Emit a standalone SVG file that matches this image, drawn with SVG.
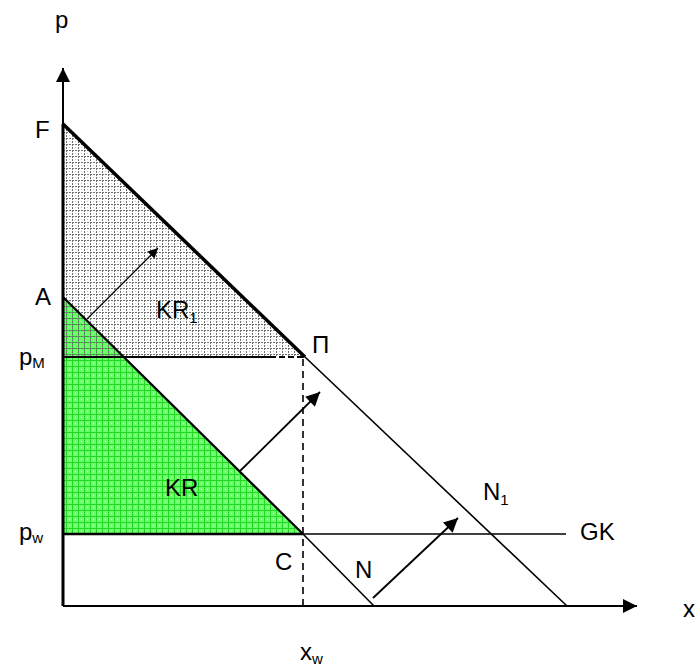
<svg xmlns="http://www.w3.org/2000/svg" width="697" height="669" viewBox="0 0 697 669">
<defs>
<style>
text{font-family:"Liberation Sans",Arial,sans-serif;font-size:24px;fill:#000}
.sub{font-size:15px}
.ln{stroke:#000;fill:none}
</style>
<pattern id="gray" width="6" height="6" patternUnits="userSpaceOnUse">
<path d="M0 .5H6M.5 0V6" stroke="#6e6e6e" stroke-width="1" stroke-dasharray="2 1"/>
<rect x="3" y="3" width="1" height="1" fill="#c8c8c8"/>
</pattern>
<pattern id="green" width="6" height="6" patternUnits="userSpaceOnUse">
<rect width="6" height="6" fill="#6dfc6d"/>
<path d="M0 .5H6M.5 0V6" stroke="#22d822" stroke-width="1"/>
<rect x="3" y="3" width="1" height="1" fill="#d8ffd8"/>
</pattern>
<marker id="ah" viewBox="0 0 10 10" refX="10" refY="5" markerWidth="10" markerHeight="10" markerUnits="userSpaceOnUse" orient="auto">
<path d="M0 0L10 5L0 10z" fill="#000"/>
</marker>
<marker id="ahb" viewBox="0 0 10 10" refX="10" refY="5" markerWidth="16" markerHeight="14" markerUnits="userSpaceOnUse" orient="auto">
<path d="M0 0L10 5L0 10z" fill="#000"/>
</marker>
</defs>
<rect width="697" height="669" fill="#fff"/>
<g id="areas">
<polygon id="KR" points="63,297 303,534 63,534" fill="url(#green)"/>
<polygon id="KR1" points="63,124 305,357 63,357" fill="url(#gray)"/>
</g>
<g id="connectors">
<line class="ln" x1="63" y1="606" x2="63" y2="68" stroke-width="2" marker-end="url(#ahb)"/>
<line class="ln" x1="63" y1="606" x2="637" y2="606" stroke-width="2" marker-end="url(#ahb)"/>
<line class="ln" x1="63" y1="124" x2="305" y2="357" stroke-width="3.5"/>
<line class="ln" x1="305" y1="357" x2="567" y2="606" stroke-width="1.6"/>
<line class="ln" x1="63" y1="297" x2="303" y2="534" stroke-width="2.2"/>
<line class="ln" x1="303" y1="534" x2="374" y2="606" stroke-width="1.6"/>
<line class="ln" x1="63" y1="357" x2="270" y2="357" stroke-width="2"/>
<line class="ln" x1="270" y1="357" x2="305" y2="357" stroke-width="2" stroke-dasharray="6 3"/>
<line class="ln" x1="63" y1="534" x2="303" y2="534" stroke-width="2.5"/>
<line class="ln" x1="303" y1="534" x2="566" y2="534" stroke-width="1.6"/>
<line class="ln" x1="303" y1="359" x2="303" y2="606" stroke-width="1.6" stroke-dasharray="7 5"/>
<line class="ln" x1="63" y1="124" x2="63" y2="606" stroke-width="3"/>
<line class="ln" x1="87" y1="319" x2="158" y2="248" stroke-width="1.3" marker-end="url(#ah)"/>
<line class="ln" x1="240" y1="471" x2="320" y2="392" stroke-width="1.8" marker-end="url(#ahb)"/>
<line class="ln" x1="373" y1="598" x2="458" y2="518" stroke-width="1.8" marker-end="url(#ahb)"/>
</g>
<g id="labels">
<text x="55" y="28">p</text>
<text x="35" y="138">F</text>
<text x="35" y="305">A</text>
<text x="19" y="365">p<tspan class="sub" dy="3">M</tspan></text>
<text x="19" y="540">p<tspan class="sub" dy="3">w</tspan></text>
<text x="156" y="318">KR<tspan class="sub" dy="5">1</tspan></text>
<text x="165" y="496">KR</text>
<text x="275" y="570">C</text>
<text x="300" y="660">x<tspan class="sub" dy="4">w</tspan></text>
<text x="355" y="578">N</text>
<text x="483" y="500">N<tspan class="sub" dy="5">1</tspan></text>
<text x="580" y="540">GK</text>
<text x="683" y="617">x</text>
<text x="312" y="353">Π</text>
</g>
</svg>
